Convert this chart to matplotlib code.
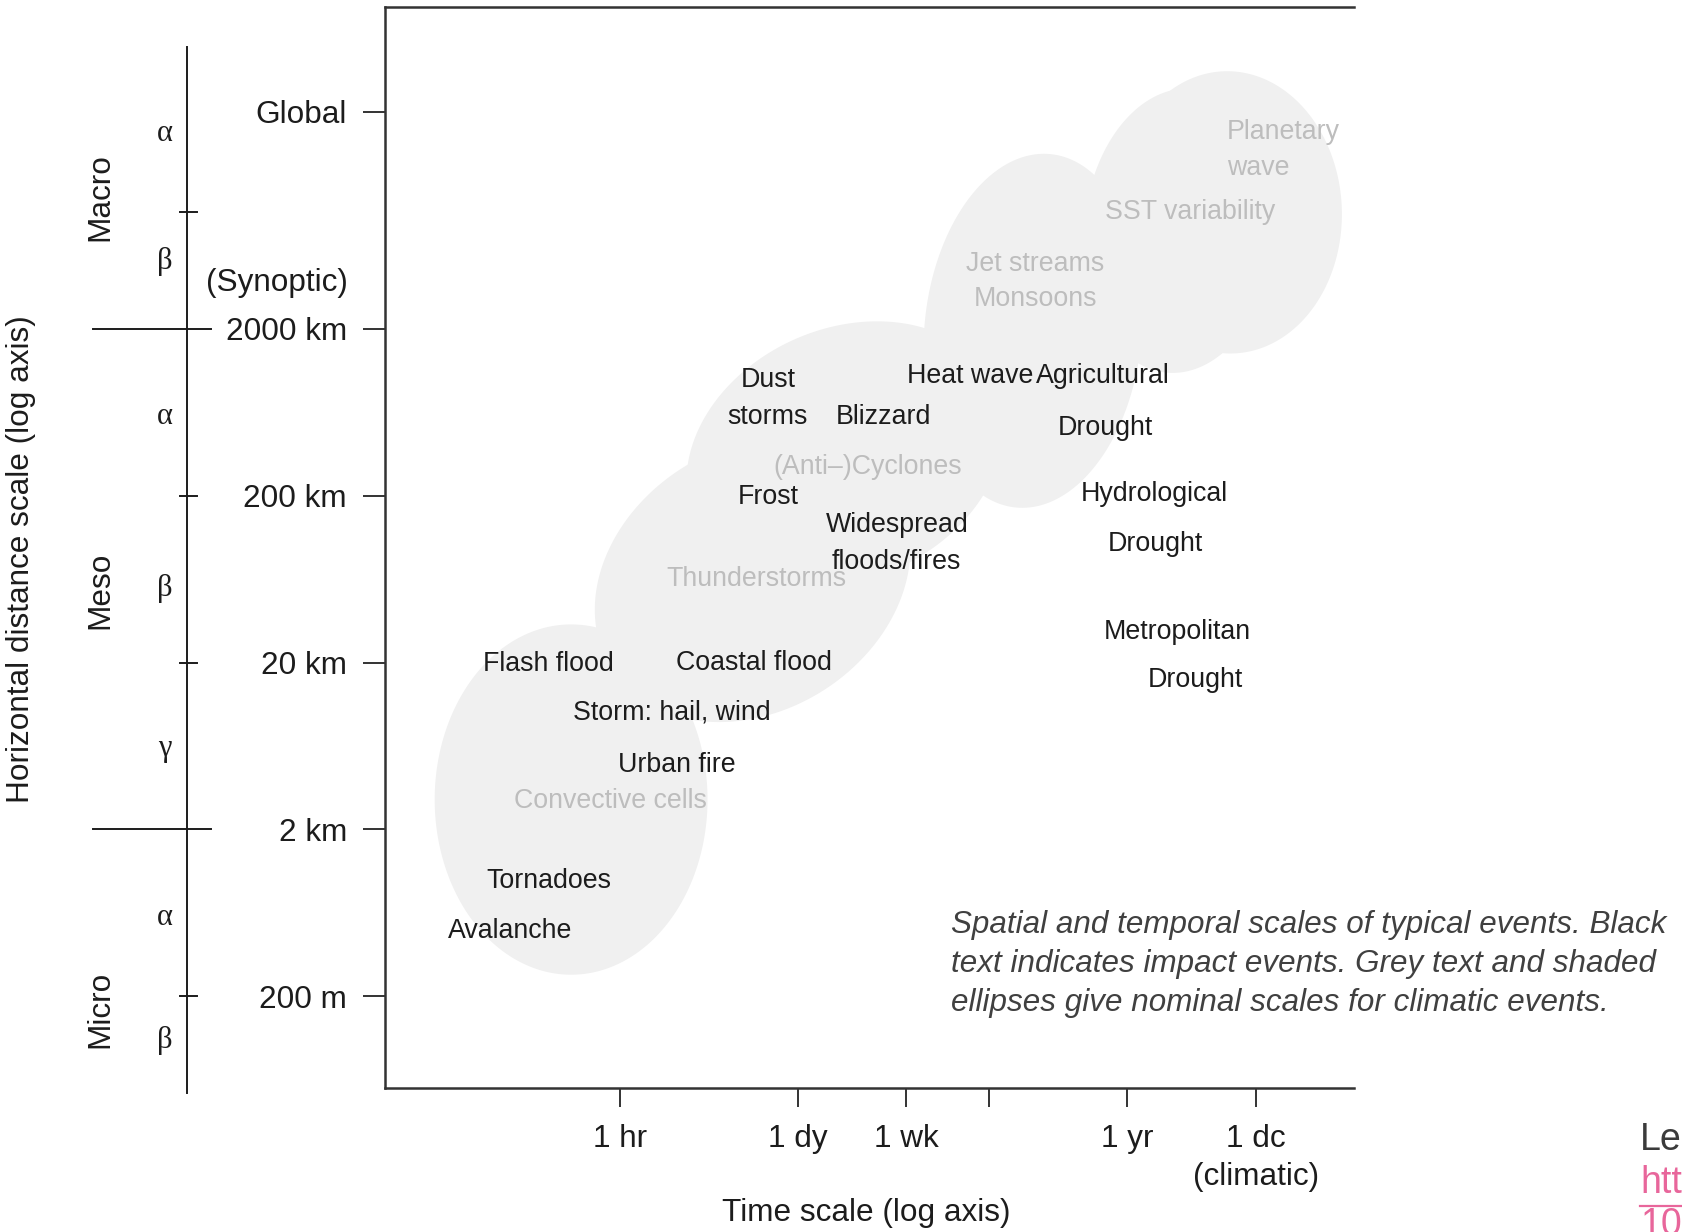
import numpy as np
import matplotlib.pyplot as plt
from matplotlib.lines import Line2D
from matplotlib.ticker import NullLocator
from matplotlib.transforms import blended_transform_factory

plt.rcParams['font.family'] = ['Liberation Sans', 'DejaVu Sans']

# time axis in hours, distance axis in km
time_ticks = [1, 24, 168, 730, 8766, 87660]
time_labels = ['1 hr', '1 dy', '1 wk', '', '1 yr', '1 dc\n(climatic)']
dist_ticks = [40000, 2000, 200, 20, 2, 0.2]
dist_labels = ['Global', '2000 km', '200 km', '20 km', '2 km', '200 m']

# impact events (black text): label, time [h], distance [km]
impact_names = ['Dust', 'storms', 'Blizzard', 'Heat wave', 'Agricultural', 'Drought',
                'Frost', 'Widespread', 'floods/fires', 'Hydrological', 'Drought',
                'Metropolitan', 'Drought', 'Flash flood', 'Coastal flood',
                'Storm: hail, wind', 'Urban fire', 'Tornadoes', 'Avalanche']
impact_time = [14.1, 13.9, 112, 525, 5660, 5870,
               14.1, 142, 140, 14100, 14400,
               21300, 29400, 0.28, 11,
               2.54, 2.77, 0.28, 0.14]
impact_dist = [989, 593, 593, 1045, 1045, 509,
               197, 134, 80, 205, 103,
               30.5, 15.7, 19.6, 19.8,
               10.1, 4.87, 0.98, 0.49]

# climatic phenomena (grey text)
climate_names = ['(Anti\u2013)Cyclones', 'Thunderstorms', 'Convective cells',
                 'Jet streams', 'Monsoons', 'SST variability', 'Planetary', 'wave']
climate_time = [84.5, 11.4, 0.84, 1680, 1700, 26800, 142000, 90600]
climate_dist = [298, 63, 2.96, 4910, 3030, 10000, 30300, 18500]

# shaded ellipses, in decades: centre log10(h), log10(km), half-axes, tilt (deg)
ell_cx = [-0.38, 1.03, 1.75, 3.21, 4.35, 4.73]
ell_cy = [0.48, 1.80, 2.55, 3.29, 3.89, 4.00]
ell_rx = [1.06, 1.25, 1.25, 0.84, 0.74, 0.88]
ell_ry = [1.05, 0.82, 0.77, 1.07, 0.86, 0.845]
ell_tilt = [0, 15, 12, -12, -15, -10]

# meteorological scale classes on the left
class_names = ['Macro', 'Meso', 'Micro']
class_dist = [12400, 54, 0.168]
sub_names = ['\u03b1', '\u03b2', '\u03b1', '\u03b2', '\u03b3', '\u03b1', '\u03b2']
sub_dist = [29900, 5050, 601, 56, 6.15, 0.589, 0.108]
major_bounds = [2000, 2]
minor_bounds = [10000, 200, 20, 0.2]

W, H = 1683, 1232


def fx(px):
    return px / W


def fy(py):
    return 1 - py / H


ink = '#1c1c1c'
grey_txt = '#bdbdbd'
fill = '#f0f0f0'

fig = plt.figure(figsize=(W / 100, H / 100), dpi=100)
ax = fig.add_axes([fx(385), fy(1088), (1354 - 385) / W, (1088 - 7) / H])
ax.set_xscale('log')
ax.set_yscale('log')
ax.set_xlim(10 ** -1.826, 10 ** 5.703)
ax.set_ylim(10 ** -1.249, 10 ** 5.231)

t = np.linspace(0, 2 * np.pi, 300)
for cx, cy, rx, ry, tilt in zip(ell_cx, ell_cy, ell_rx, ell_ry, ell_tilt):
    a = np.radians(tilt)
    u, v = rx * np.cos(t), ry * np.sin(t)
    lx = cx + u * np.cos(a) - v * np.sin(a)
    ly = cy + u * np.sin(a) + v * np.cos(a)
    ax.fill(10 ** lx, 10 ** ly, color=fill, lw=0, zorder=0)

for name, tx, dy in zip(climate_names, climate_time, climate_dist):
    ax.text(tx, dy, name, color=grey_txt, fontsize=19.3, ha='center', va='center', zorder=2)
for name, tx, dy in zip(impact_names, impact_time, impact_dist):
    ax.text(tx, dy, name, color=ink, fontsize=19.3, ha='center', va='center', zorder=3)

ax.set_xticks(time_ticks, time_labels)
ax.set_yticks(dist_ticks, dist_labels)
ax.xaxis.set_minor_locator(NullLocator())
ax.yaxis.set_minor_locator(NullLocator())
ax.tick_params(axis='x', length=13.7, width=1.4, pad=12.5, labelsize=22.7,
               color='#333333', labelcolor=ink)
ax.tick_params(axis='y', length=15.8, width=1.4, pad=11.5, labelsize=22.7,
               color='#333333', labelcolor=ink)
for lab in ax.get_xticklabels():
    lab.set_linespacing(1.32)
for side in ['left', 'top', 'bottom']:
    ax.spines[side].set_linewidth(1.8)
    ax.spines[side].set_color('#333333')
ax.spines['right'].set_visible(False)

# scale-class bar left of the axis
bar = blended_transform_factory(fig.transFigure, ax.transData)
ax.plot([fx(187), fx(187)], [98000, 0.0526], transform=bar, clip_on=False,
        color=ink, lw=1.4)
for b in major_bounds:
    ax.plot([fx(93), fx(211)], [b, b], transform=bar, clip_on=False, color=ink, lw=1.4)
for b in minor_bounds:
    ax.plot([fx(180), fx(197)], [b, b], transform=bar, clip_on=False, color=ink, lw=1.4)
for name, dy in zip(sub_names, sub_dist):
    ax.text(fx(165), dy, name, transform=bar, fontsize=22, ha='center', va='center',
            color=ink, family=['Liberation Serif', 'DejaVu Serif'])
for name, dy in zip(class_names, class_dist):
    ax.text(fx(100), dy, name, transform=bar, fontsize=22.7, ha='center', va='center',
            rotation=90, color=ink)
ax.text(fx(348), 3770, '(Synoptic)', transform=bar, fontsize=22.7, ha='right',
        va='center', color=ink)

fig.text(fx(21), fy(559), 'Horizontal distance scale (log axis)', rotation=90,
         fontsize=22.7, ha='center', va='center', color=ink)
fig.text(fx(866), fy(1213), 'Time scale (log axis)', fontsize=22.7,
         ha='center', va='center', color=ink)

# caption
caption = ['Spatial and temporal scales of typical events. Black',
           'text indicates impact events. Grey text and shaded',
           'ellipses give nominal scales for climatic events.']
for i, line in enumerate(caption):
    fig.text(fx(951), fy(925 + 39 * i), line, fontsize=22.6, style='italic',
             color='#404040', ha='left', va='center')

# reference, running off the page edge
fig.text(fx(1640), fy(1140), 'Lecture', fontsize=27, color='#3b3b3b', va='center')
fig.text(fx(1640), fy(1183), 'https://', fontsize=27, color='#e8669b', va='center')
fig.text(fx(1640), fy(1225), '10.', fontsize=27, color='#e8669b', va='center')
fig.add_artist(Line2D([fx(1640), 1.0], [fy(1206), fy(1206)], color='#e8669b', lw=1.6))

fig.savefig('out.png', dpi=100)
